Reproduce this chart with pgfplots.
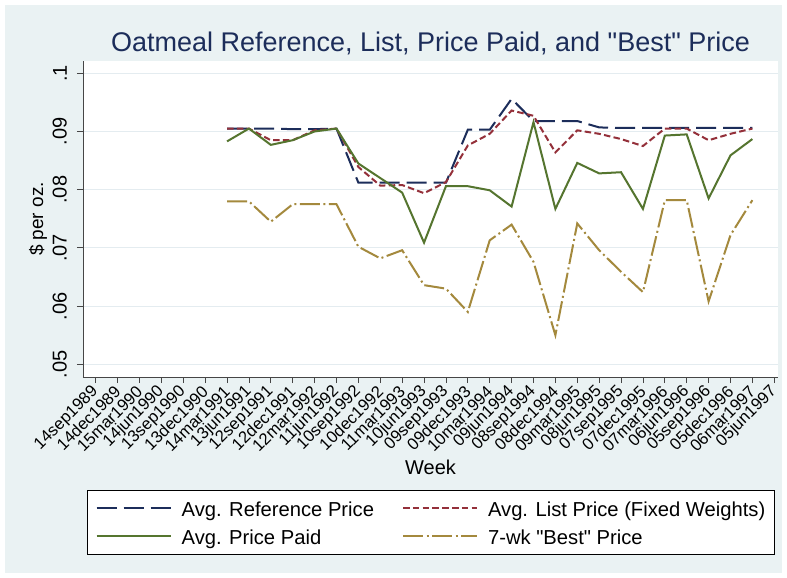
\documentclass[border=0pt]{standalone}
\usepackage{pgfplots}
\usepackage{pgfplotstable}
\pgfplotsset{compat=1.18}
\usepackage{fontspec}
\setmainfont{Liberation Sans}
\newfontfamily\nolig{Liberation Sans}
\newcommand{\dq}{{\nolig\char34}}
\definecolor{stnavy}{RGB}{28,45,90}
\definecolor{stmaroon}{RGB}{148,48,58}
\definecolor{stgreen}{RGB}{85,117,47}
\definecolor{stgold}{RGB}{164,137,61}
\definecolor{bgc}{RGB}{234,242,243}
\definecolor{gridc}{RGB}{228,236,240}
\definecolor{axisgray}{RGB}{70,70,70}

\pgfplotstableread{
i ref list paid best
6 0.0905 0.0905 0.0883 0.0780
7 0.0905 0.0905 0.0905 0.0780
8 0.0905 0.0885 0.0877 0.0745
9 0.0904 0.0885 0.0885 0.0775
10 0.0904 0.0902 0.0900 0.0775
11 0.0905 0.0905 0.0905 0.0775
12 0.0812 0.0839 0.0845 0.0702
13 0.0812 0.0807 0.0820 0.0682
14 0.0812 0.0808 0.0795 0.0696
15 0.0812 0.0794 0.0709 0.0636
16 0.0812 0.0813 0.0806 0.0630
17 0.0903 0.0876 0.0806 0.0590
18 0.0903 0.0896 0.0799 0.0713
19 0.0956 0.0936 0.0771 0.0740
20 0.0918 0.0927 0.0916 0.0676
21 0.0918 0.0864 0.0767 0.0550
22 0.0918 0.0902 0.0846 0.0742
23 0.0907 0.0896 0.0828 0.0696
24 0.0906 0.0887 0.0830 0.0659
25 0.0906 0.0875 0.0767 0.0624
26 0.0906 0.0905 0.0893 0.0782
27 0.0906 0.0905 0.0895 0.0782
28 0.0906 0.0885 0.0785 0.0608
29 0.0906 0.0896 0.0859 0.0722
30 0.0906 0.0905 0.0887 0.0782
}\oatdata

\begin{document}
\begin{tikzpicture}
\path[use as bounding box] (-83pt,-201pt) rectangle (704pt,377pt);
\fill[white] (-83pt,-201pt) rectangle (704pt,377pt);
\fill[bgc] (-78pt,-196pt) rectangle (699pt,372pt);
\begin{axis}[
  at={(0pt,0pt)}, anchor=south west,
  scale only axis, width=695pt, height=316pt,
  xmin=-0.58, xmax=31.17, ymin=0.04782, ymax=0.10211,
  axis x line*=bottom, axis y line*=left,
  axis line style={draw=axisgray, line width=0.8pt, -},
  axis background/.style={fill=white},
  tick align=outside, major tick length=6pt,
  tick style={draw=axisgray, line width=0.8pt},
  ymajorgrids, grid style={draw=gridc, line width=1.2pt},
  ytick={0.05,0.06,0.07,0.08,0.09,0.1},
  yticklabels={.05,.06,.07,.08,.09,.1},
  xtick={0,1,...,31},
  xticklabels={14sep1989,14dec1989,15mar1990,14jun1990,13sep1990,13dec1990,14mar1991,13jun1991,12sep1991,12dec1991,12mar1992,11jun1992,10sep1992,10dec1992,11mar1993,10jun1993,09sep1993,09dec1993,10mar1994,09jun1994,08sep1994,08dec1994,09mar1995,08jun1995,07sep1995,07dec1995,07mar1996,06jun1996,05sep1996,05dec1996,06mar1997,05jun1997},
  yticklabel style={rotate=90, anchor=south, inner sep=0pt, font=\fontsize{20}{24}\selectfont, text=black},
  yticklabel shift=10pt,
  xticklabel style={rotate=45, anchor=east, inner sep=0pt, font=\fontsize{16.6}{19}\selectfont, text=black},
  xticklabel shift=6pt,
  xlabel={Week},
  xlabel style={at={(axis description cs:0.5,-0.285)}, anchor=center, font=\fontsize{20}{24}\selectfont},
  ylabel={\$ per oz.},
  ylabel style={at={(axis description cs:-0.0647,0.5)}, anchor=center, font=\fontsize{19}{23}\selectfont},
  legend columns=2,
  legend image code/.code={\draw[#1] (0pt,0pt) -- (74pt,0pt);},
  legend style={at={(axis description cs:0.5,-0.3576)}, anchor=north, draw=black, line width=0.8pt, fill=white,
    font=\fontsize{20.2}{24}\selectfont, inner xsep=8.7pt, inner ysep=6pt, row sep=4pt,
    nodes={inner sep=0pt, text height=20pt, text depth=4pt},
    cells={anchor=west},
    /tikz/every odd column/.style={column sep=10pt},
    /tikz/every even column/.style={column sep=28pt}},
]
\addplot[stnavy, line width=2pt, dash pattern=on 20pt off 7pt] table[x=i, y=ref] {\oatdata};
\addlegendentry{Avg. Reference Price}
\addplot[stmaroon, line width=2pt, dash pattern=on 6.5pt off 3.3pt] table[x=i, y=list] {\oatdata};
\addlegendentry{Avg. List Price (Fixed Weights)}
\addplot[stgreen, line width=2pt] table[x=i, y=paid] {\oatdata};
\addlegendentry{Avg. Price Paid}
\addplot[stgold, line width=2pt, dash pattern=on 20pt off 3.5pt on 2pt off 3.5pt] table[x=i, y=best] {\oatdata};
\addlegendentry{7-wk \dq Best\dq{} Price}
\end{axis}
\node[anchor=base, text=stnavy, font=\fontsize{27}{32}\selectfont] at (347.5pt,325pt) {Oatmeal Reference, List, Price Paid, and \dq Best\dq{} Price};
\end{tikzpicture}
\end{document}
